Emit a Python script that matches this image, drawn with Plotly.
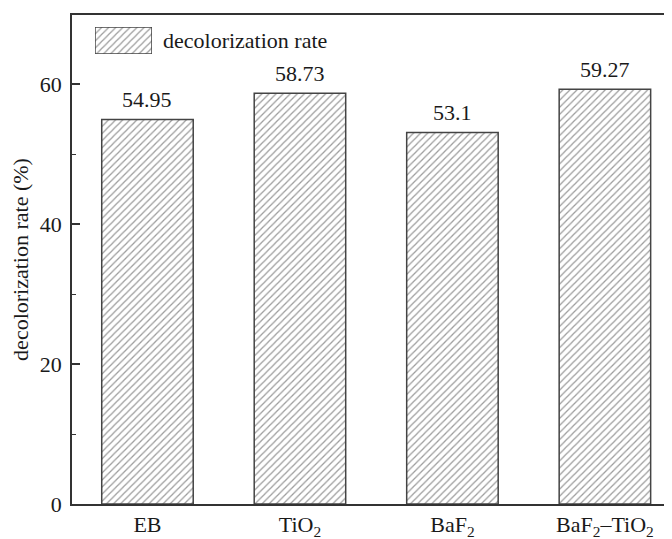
import plotly.graph_objects as go

categories = ["EB", "TiO<sub>2</sub>", "BaF<sub>2</sub>", "BaF<sub>2</sub>–TiO<sub>2</sub>"]
values = [54.95, 58.73, 53.1, 59.27]
value_labels = ["54.95", "58.73", "53.1", "59.27"]
series_name = "decolorization rate"
y_title = "decolorization rate (%)"

FONT = "Liberation Serif"
FS = 22
TXT = "#1a1a1a"
AX = "#333333"
pattern = dict(shape="/", size=5, solidity=0.25, fgcolor="#3a3a3a", bgcolor="white")

fig = go.Figure()
fig.add_trace(go.Bar(
    x=categories, y=values, width=0.6,
    marker=dict(color="white", pattern=pattern, line=dict(color="#444", width=1.5)),
    showlegend=False,
))
for c, v, lab in zip(categories, values, value_labels):
    fig.add_annotation(x=c, y=v, text=lab, showarrow=False, yanchor="middle",
                       yshift=20, font=dict(family=FONT, size=FS, color=TXT))
# legend swatch
fig.add_trace(go.Bar(
    x=[0], y=[1], width=1, xaxis="x2", yaxis="y2",
    marker=dict(color="white", pattern=pattern, line=dict(color="#444", width=1.5)),
    showlegend=False, hoverinfo="skip",
))
fig.add_annotation(text=series_name, xref="paper", yref="paper", x=0.1483, y=0.948,
                   xanchor="left", yanchor="middle", showarrow=False,
                   font=dict(family=FONT, size=FS, color=TXT))

# page body has an 8px default margin; figure sized to fill the remaining window
fig.update_layout(
    width=664, height=531,
    margin=dict(l=64, r=0, t=7, b=35, autoexpand=False),
    plot_bgcolor="white", paper_bgcolor="white",
    font=dict(family=FONT, size=FS, color=TXT),
    xaxis=dict(range=[-0.495, 3.44], showline=True, linecolor=AX, linewidth=1.5,
               mirror=True, ticks="", showgrid=False, zeroline=False, automargin=False,
               tickfont=dict(family=FONT, size=FS, color=TXT)),
    yaxis=dict(range=[0, 69.9], showline=True, linecolor=AX, linewidth=1.5,
               ticks="inside", ticklen=8, tickwidth=1.5, tickcolor=AX,
               tickvals=[0, 20, 40, 60], showgrid=False, zeroline=False, automargin=False,
               minor=dict(ticks="inside", ticklen=4, tickwidth=1.2, tickcolor=AX,
                          tickvals=[10, 30, 50]),
               ticklabelstandoff=4,
               title=dict(text=y_title, standoff=8, font=dict(family=FONT, size=FS, color=TXT)),
               tickfont=dict(family=FONT, size=FS, color=TXT)),
    xaxis2=dict(domain=[0.0383, 0.1333], range=[-0.5, 0.5], visible=False, anchor="y2"),
    yaxis2=dict(domain=[0.920, 0.9755], range=[0, 1], visible=False, anchor="x2"),
)

fig.write_html("out.html")
